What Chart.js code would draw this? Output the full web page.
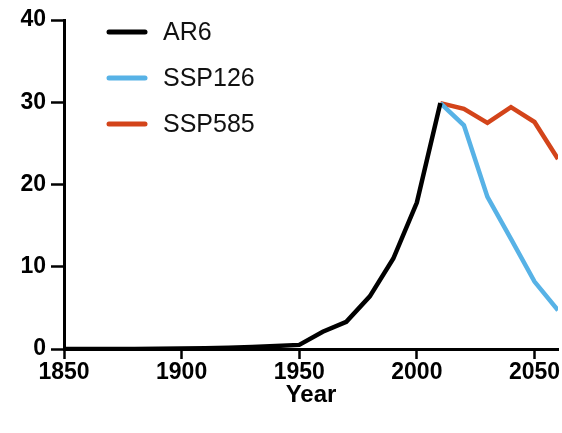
<!DOCTYPE html>
<html>
<head>
<meta charset="utf-8">
<script src="https://cdn.jsdelivr.net/npm/chart.js"></script>
<style>
  html, body { margin: 0; padding: 0; background: #fff; }
  #wrap { width: 562px; height: 433px; }
</style>
</head>
<body>
<div id="wrap"><canvas id="chart" width="562" height="433"></canvas></div>
<script>
// values
const ar6Years = [1850, 1860, 1870, 1880, 1890, 1900, 1910, 1920, 1930, 1940, 1950, 1960, 1970, 1980, 1990, 2000, 2010];
const ar6Values = [0, 0, 0, 0, 0.02, 0.05, 0.1, 0.15, 0.25, 0.35, 0.5, 2.1, 3.3, 6.4, 11.0, 17.8, 29.9];

const sspYears = [2010, 2020, 2030, 2040, 2050, 2060];
const ssp126Values = [29.9, 27.2, 18.5, 13.4, 8.2, 4.7];
const ssp585Values = [29.9, 29.2, 27.5, 29.4, 27.6, 23.1];

const xTicks = [1850, 1900, 1950, 2000, 2050];
const yTicks = [0, 10, 20, 30, 40];

const FONT = '"Liberation Sans", Arial, Helvetica, sans-serif';

function toPoints(xs, ys) {
  return xs.map((x, i) => ({ x: x, y: ys[i] }));
}

// legend drawn inside the plot area, top left
const insideLegend = {
  id: 'insideLegend',
  afterDraw(chart) {
    const ctx = chart.ctx;
    const rows = [32, 78, 124];
    ctx.save();
    chart.data.datasets.forEach((ds, i) => {
      const y = rows[i];
      ctx.strokeStyle = ds.borderColor;
      ctx.lineWidth = 5;
      ctx.lineCap = 'round';
      ctx.beginPath();
      ctx.moveTo(109, y);
      ctx.lineTo(145, y);
      ctx.stroke();
      ctx.fillStyle = '#111';
      ctx.font = '25px ' + FONT;
      ctx.textBaseline = 'middle';
      ctx.textAlign = 'left';
      ctx.fillText(ds.label, 163, y + 1);
    });
    ctx.restore();
  }
};

const ctx = document.getElementById('chart').getContext('2d');
new Chart(ctx, {
  type: 'line',
  data: {
    datasets: [
      {
        label: 'AR6',
        data: toPoints(ar6Years, ar6Values),
        borderColor: '#000000',
        borderWidth: 4.5,
        pointRadius: 0,
        tension: 0,
        order: 0
      },
      {
        label: 'SSP126',
        data: toPoints(sspYears, ssp126Values),
        borderColor: '#57b2e6',
        borderWidth: 4.5,
        pointRadius: 0,
        tension: 0,
        order: 1
      },
      {
        label: 'SSP585',
        data: toPoints(sspYears, ssp585Values),
        borderColor: '#d3441a',
        borderWidth: 4.5,
        pointRadius: 0,
        tension: 0,
        order: 2
      }
    ]
  },
  options: {
    responsive: false,
    animation: false,
    layout: { padding: { top: 20, right: 4, left: 0, bottom: 0 } },
    plugins: {
      legend: { display: false },
      tooltip: { enabled: false }
    },
    scales: {
      x: {
        type: 'linear',
        min: 1850,
        max: 2060,
        afterFit(scale) { scale.height = 84; },
        afterBuildTicks(scale) { scale.ticks = xTicks.map(v => ({ value: v })); },
        grid: {
          drawOnChartArea: false,
          drawTicks: true,
          tickLength: 10,
          tickWidth: 2.5,
          tickColor: '#000'
        },
        border: { color: '#000', width: 3 },
        ticks: {
          color: '#000',
          padding: 0,
          maxRotation: 0,
          font: { family: FONT, size: 23, weight: 'bold' },
          callback: v => String(v)
        },
        title: {
          display: true,
          text: 'Year',
          color: '#000',
          font: { family: FONT, size: 24, weight: 'bold' },
          padding: { top: 0, bottom: 23 }
        }
      },
      y: {
        min: 0,
        max: 40,
        afterFit(scale) { scale.width = 64; },
        afterBuildTicks(scale) { scale.ticks = yTicks.map(v => ({ value: v })); },
        grid: {
          drawOnChartArea: false,
          drawTicks: true,
          tickLength: 13,
          tickWidth: 2.5,
          tickColor: '#000'
        },
        border: { color: '#000', width: 3 },
        ticks: {
          color: '#000',
          padding: 5,
          font: { family: FONT, size: 23, weight: 'bold' }
        }
      }
    }
  },
  plugins: [insideLegend]
});
</script>
</body>
</html>
